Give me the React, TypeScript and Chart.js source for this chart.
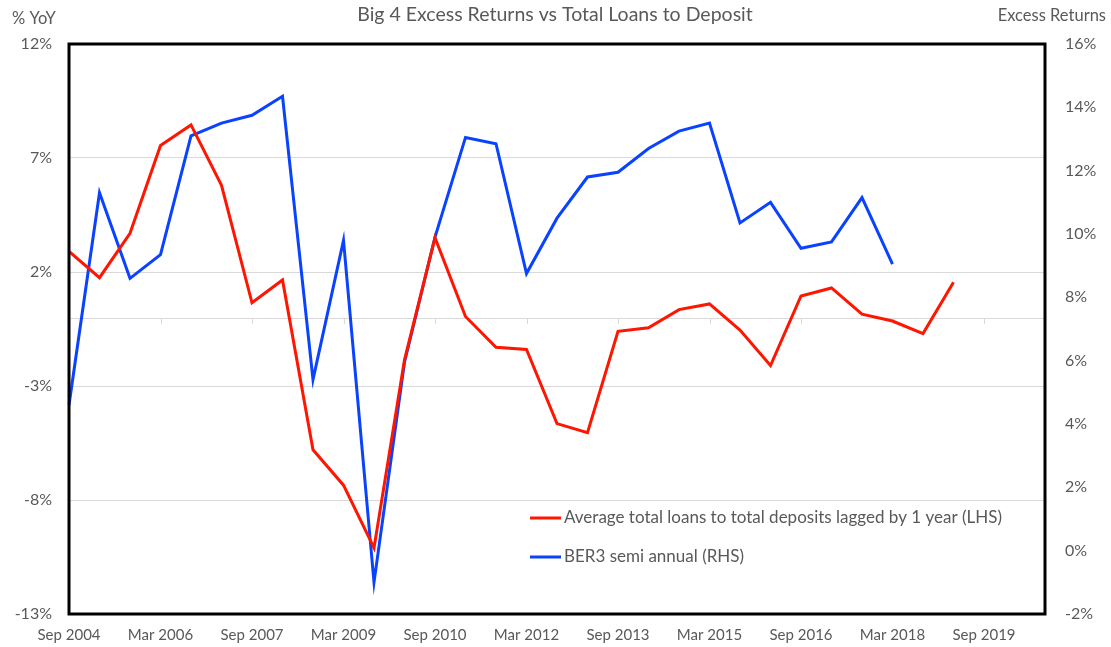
import React, { useEffect, useRef } from "react";
import { Chart, registerables } from "chart.js";

Chart.register(...registerables);

const TITLE = "Big 4 Excess Returns vs Total Loans to Deposit";
const LEFT_AXIS_TITLE = "% YoY";
const RIGHT_AXIS_TITLE = "Excess Returns";

const categories = [
  "Sep 2004", "Mar 2005", "Sep 2005", "Mar 2006", "Sep 2006", "Mar 2007", "Sep 2007",
  "Mar 2008", "Sep 2008", "Mar 2009", "Sep 2009", "Mar 2010", "Sep 2010", "Mar 2011",
  "Sep 2011", "Mar 2012", "Sep 2012", "Mar 2013", "Sep 2013", "Mar 2014", "Sep 2014",
  "Mar 2015", "Sep 2015", "Mar 2016", "Sep 2016", "Mar 2017", "Sep 2017", "Mar 2018",
  "Sep 2018", "Mar 2019", "Sep 2019", "Mar 2020", "Sep 2020",
];

const loansToDeposits = [
  2.9, 1.75, 3.7, 7.55, 8.45, 5.8, 0.65, 1.65, -5.8, -7.35, -10.1, -1.85, 3.5,
  0.05, -1.3, -1.4, -4.65, -5.05, -0.6, -0.45, 0.35, 0.6, -0.55, -2.1, 0.95,
  1.3, 0.15, -0.15, -0.7, 1.55, null, null, null,
];

const ber3SemiAnnual = [
  4.6, 11.3, 8.6, 9.35, 13.1, 13.5, 13.75, 14.35, 5.4, 9.8, -1.0, 5.95, 9.9,
  13.05, 12.85, 8.75, 10.5, 11.8, 11.95, 12.7, 13.25, 13.5, 10.35, 11.0, 9.55,
  9.75, 11.15, 9.05, null, null, null, null, null,
];

const leftTicks = { min: -13, max: 12, step: 5 };
const rightTicks = { min: -2, max: 16, step: 2 };

const FONT = "Lato, 'Open Sans', sans-serif";
const TEXT = "#595959";

export default function App() {
  const ref = useRef<HTMLCanvasElement | null>(null);

  useEffect(() => {
    document.body.style.margin = "0";
    const canvas = ref.current;
    if (!canvas) return;

    const extras = {
      id: "extras",
      beforeDatasetsDraw(chart: any) {
        const { ctx, chartArea } = chart;
        const y = chart.scales.y.getPixelForValue(0);
        const x = chart.scales.x;
        ctx.save();
        ctx.strokeStyle = "#d9d9d9";
        ctx.lineWidth = 1;
        ctx.beginPath();
        ctx.moveTo(chartArea.left, Math.round(y) + 0.5);
        ctx.lineTo(chartArea.right, Math.round(y) + 0.5);
        for (let i = 0; i < categories.length; i += 3) {
          const px = Math.round(x.getPixelForValue(i)) + 0.5;
          ctx.moveTo(px, Math.round(y) + 0.5);
          ctx.lineTo(px, Math.round(y) + 6);
        }
        ctx.stroke();
        ctx.restore();
      },
      afterDraw(chart: any) {
        const { ctx, chartArea } = chart;
        ctx.save();
        ctx.strokeStyle = "#000";
        ctx.lineWidth = 3;
        ctx.strokeRect(chartArea.left, chartArea.top, chartArea.right - chartArea.left, chartArea.bottom - chartArea.top);
        ctx.fillStyle = TEXT;
        ctx.textBaseline = "middle";
        ctx.font = `19.5px ${FONT}`;
        ctx.textAlign = "center";
        ctx.fillText(TITLE, 555, 15);
        ctx.font = `16.5px ${FONT}`;
        ctx.textAlign = "left";
        ctx.fillText(LEFT_AXIS_TITLE, 12, 19);
        ctx.textAlign = "right";
        ctx.fillText(RIGHT_AXIS_TITLE, 1106, 16);
        const items = chart.data.datasets;
        const ys = [518, 557];
        ctx.font = `17px ${FONT}`;
        ctx.textAlign = "left";
        items.forEach((ds: any, i: number) => {
          ctx.strokeStyle = ds.borderColor;
          ctx.lineWidth = 3;
          ctx.beginPath();
          ctx.moveTo(530, ys[i]);
          ctx.lineTo(561, ys[i]);
          ctx.stroke();
          ctx.fillStyle = TEXT;
          ctx.fillText(ds.label, 564, ys[i]);
        });
        ctx.restore();
      },
    };

    const chart = new Chart(canvas, {
      type: "line",
      data: {
        labels: categories,
        datasets: [
          {
            label: "Average total loans to total deposits lagged by 1 year (LHS)",
            data: loansToDeposits,
            borderColor: "#ff1500",
            borderWidth: 3,
            pointRadius: 0,
            tension: 0,
            yAxisID: "y",
          },
          {
            label: "BER3 semi annual (RHS)",
            data: ber3SemiAnnual,
            borderColor: "#0a43ff",
            borderWidth: 3,
            pointRadius: 0,
            tension: 0,
            yAxisID: "y1",
          },
        ],
      },
      options: {
        animation: false,
        responsive: true,
        maintainAspectRatio: false,
        layout: { padding: { top: 44, left: 0, right: 0, bottom: 0 } },
        plugins: {
          legend: { display: false },
          title: { display: false },
          tooltip: { enabled: false },
        },
        scales: {
          x: {
            offset: false,
            grid: { display: false, drawTicks: false },
            border: { display: false },
            afterFit: (s: any) => { s.height = 33; },
            ticks: {
              autoSkip: false,
              maxRotation: 0,
              padding: 12,
              color: TEXT,
              font: { family: FONT, size: 15 },
              callback: (_v: any, i: number) => (i % 3 === 0 ? categories[i] : ""),
            },
          },
          y: {
            position: "left",
            min: leftTicks.min,
            max: leftTicks.max,
            afterFit: (s: any) => { s.width = 69; },
            grid: { color: "#d9d9d9", drawTicks: false, lineWidth: 1 },
            border: { display: false },
            ticks: {
              stepSize: leftTicks.step,
              padding: 17,
              color: TEXT,
              font: { family: FONT, size: 16 },
              callback: (v: any) => `${v}%`,
            },
          },
          y1: {
            position: "right",
            min: rightTicks.min,
            max: rightTicks.max,
            afterFit: (s: any) => { s.width = 66; },
            grid: { display: false, drawTicks: false },
            border: { display: false },
            ticks: {
              stepSize: rightTicks.step,
              padding: 20,
              color: TEXT,
              font: { family: FONT, size: 16 },
              callback: (v: any) => `${v}%`,
            },
          },
        },
      },
      plugins: [extras],
    });

    return () => chart.destroy();
  }, []);

  return (
    <div style={{ width: 1111, height: 647, position: "relative", background: "#fff" }}>
      <canvas ref={ref} />
    </div>
  );
}
